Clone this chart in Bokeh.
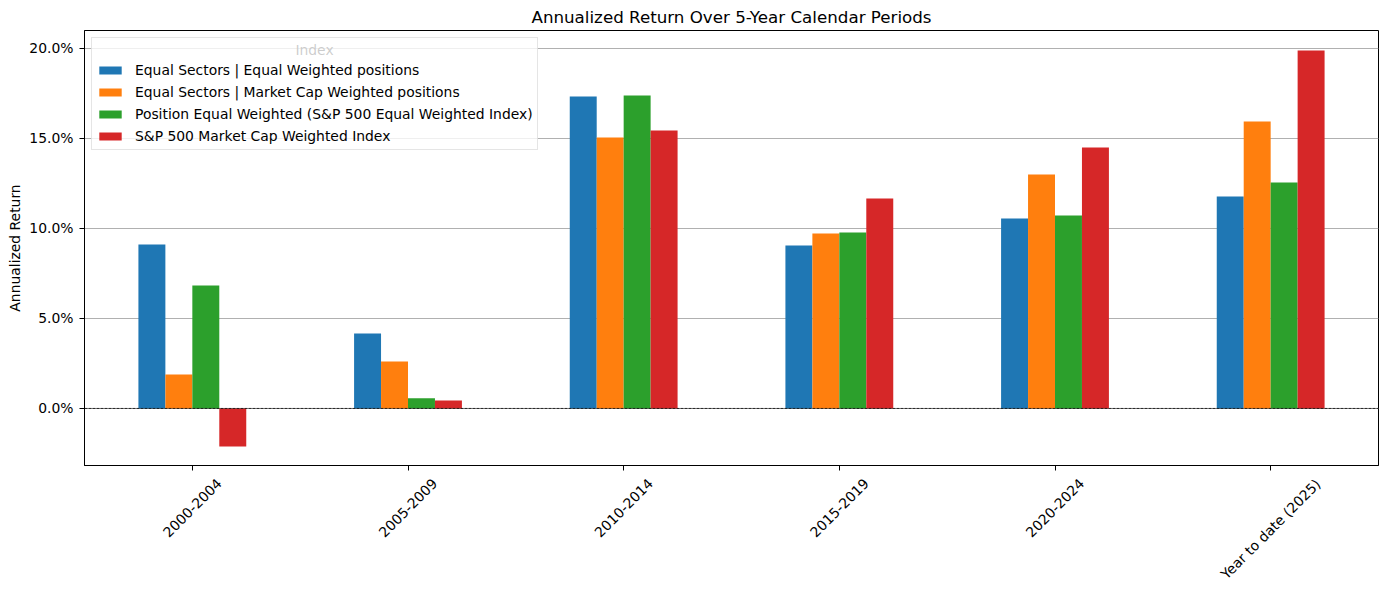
from bokeh.plotting import figure
from bokeh.layouts import column
from bokeh.models import (ColumnDataSource, FactorRange, Range1d, Span, Legend, LegendItem,
                          NumeralTickFormatter, SingleIntervalTicker, Label)
from bokeh.core.properties import value
from bokeh.transform import dodge
from bokeh.embed import file_html
from bokeh.resources import INLINE
import math

periods = ["2000-2004", "2005-2009", "2010-2014", "2015-2019", "2020-2024", "Year to date (2025)"]
series_names = [
    "Equal Sectors | Equal Weighted positions",
    "Equal Sectors | Market Cap Weighted positions",
    "Position Equal Weighted (S&P 500 Equal Weighted Index)",
    "S&P 500 Market Cap Weighted Index",
]
eq_sec_eq_w = [0.0911, 0.0417, 0.1733, 0.0906, 0.1056, 0.1178]
eq_sec_mc_w = [0.0189, 0.0261, 0.1506, 0.0972, 0.1300, 0.1594]
pos_eq_w = [0.0683, 0.0056, 0.1739, 0.0978, 0.1072, 0.1256]
sp500_mc = [-0.0211, 0.0044, 0.1544, 0.1167, 0.1450, 0.1989]
colors = ["#1f77b4", "#ff7f0e", "#2ca02c", "#d62728"]

FONT = "DejaVu Sans"
FS = 13.9  # px

# approximate DejaVu Sans advance widths (em), used to centre rotated tick labels like matplotlib
_W = {c: 0.636 for c in "0123456789"}
_W.update({"-": 0.361, " ": 0.318, "(": 0.390, ")": 0.390, "Y": 0.611, "e": 0.615,
           "a": 0.613, "r": 0.411, "t": 0.392, "o": 0.612, "d": 0.635})


def text_w(s):
    return sum(_W.get(c, 0.6) for c in s) * FS


Y0 = -0.0317
W = 1389
MAIN_H = 473
STRIP_H = 590 - MAIN_H
BOTTOM_GAP = 8  # space between frame bottom and strip top

source = ColumnDataSource(dict(period=periods, s0=eq_sec_eq_w, s1=eq_sec_mc_w, s2=pos_eq_w, s3=sp500_mc))

p = figure(
    x_range=FactorRange(*periods, range_padding=0),
    y_range=Range1d(Y0, 0.21),
    width=W, height=MAIN_H,
    output_backend="svg", toolbar_location=None,
    title="Annualized Return Over 5-Year Calendar Periods",
    min_border_left=84, min_border_right=11, min_border_top=30, min_border_bottom=BOTTOM_GAP,
)

bw = 0.125
offsets = [-1.5 * bw, -0.5 * bw, 0.5 * bw, 1.5 * bw]
renderers = []
for i, col in enumerate(["s0", "s1", "s2", "s3"]):
    r = p.vbar(x=dodge("period", offsets[i], range=p.x_range), top=col, bottom=0, width=bw,
               source=source, fill_color=colors[i], line_color=None)
    renderers.append(r)

p.add_layout(Span(location=0, dimension="width", line_color="black", line_width=0.8, line_dash="3 1"))

legend = Legend(items=[LegendItem(label=n, renderers=[r]) for n, r in zip(series_names, renderers)],
                location="top_left", title="Index", level="underlay")
legend.title_text_font = FONT
legend.title_text_font_size = f"{FS}px"
legend.title_text_font_style = "normal"
legend.title_text_alpha = 0  # drawn centred by the Label below
legend.title_standoff = 3
legend.label_text_font = FONT
legend.label_text_font_size = f"{FS}px"
legend.label_text_color = "black"
legend.glyph_width = 28
legend.glyph_height = 10
legend.label_height = 18
legend.spacing = 4
legend.padding = 4
legend.margin = 7
legend.label_standoff = 11
legend.border_line_color = "#cccccc"
legend.border_line_width = 1
legend.background_fill_alpha = 0.8
p.add_layout(legend)
# centred legend title (screen units relative to the frame), drawn above the legend box
p.add_layout(Label(x=230, y=416, x_units="screen", y_units="screen", text="Index", level="overlay",
                   text_align="center", text_baseline="middle",
                   text_font=FONT, text_font_size=f"{FS}px", text_color="black"))

p.title.align = "center"
p.title.text_font = FONT
p.title.text_font_size = "16.7px"
p.title.text_font_style = "normal"
p.title.text_color = "black"
p.title.standoff = 7

p.yaxis.ticker = SingleIntervalTicker(interval=0.05)
p.yaxis.formatter = NumeralTickFormatter(format="0.0%")
p.yaxis.axis_label = "Annualized Return"
p.yaxis.axis_label_text_font = FONT
p.yaxis.axis_label_text_font_size = f"{FS}px"
p.yaxis.axis_label_text_font_style = "normal"
p.yaxis.axis_label_text_color = "black"
p.yaxis.major_label_standoff = 6
p.yaxis.axis_label_standoff = 3

p.xaxis.major_label_text_font_size = "0px"
p.xaxis.major_label_text_color = None
p.xaxis.major_label_standoff = 0

for ax in [p.xaxis, p.yaxis]:
    ax.axis_line_color = "black"
    ax.major_tick_line_color = "black"
    ax.major_tick_out = 5
    ax.major_tick_in = 0
    ax.minor_tick_line_color = None
p.yaxis.major_label_text_font = FONT
p.yaxis.major_label_text_font_size = f"{FS}px"
p.yaxis.major_label_text_color = "black"

p.xgrid.grid_line_color = None
p.ygrid.grid_line_color = "#b0b0b0"
p.ygrid.grid_line_width = 1
p.outline_line_color = "black"
p.outline_line_width = 1
p.outline_line_alpha = 1

# strip below the plot holding the rotated, centred x tick labels (matplotlib style)
lab_y = [STRIP_H - (12 + (text_w(s) + 10) / (2 * math.sqrt(2)) - BOTTOM_GAP) for s in periods]
lab_src = ColumnDataSource(dict(period=periods, y=lab_y))
strip = figure(x_range=p.x_range, y_range=Range1d(0, STRIP_H), width=W, height=STRIP_H,
               output_backend="svg", toolbar_location=None,
               min_border_left=84, min_border_right=11, min_border_top=0, min_border_bottom=0)
strip.axis.visible = False
strip.grid.visible = False
strip.outline_line_color = None
strip.text(x="period", y="y", text="period", source=lab_src, angle=math.pi / 4,
           text_align="center", text_baseline="middle",
           text_font=value(FONT), text_font_size=value(f"{FS}px"), text_color="black")

layout = column(p, strip, spacing=0)
open("out.html", "w").write(file_html(layout, INLINE))
